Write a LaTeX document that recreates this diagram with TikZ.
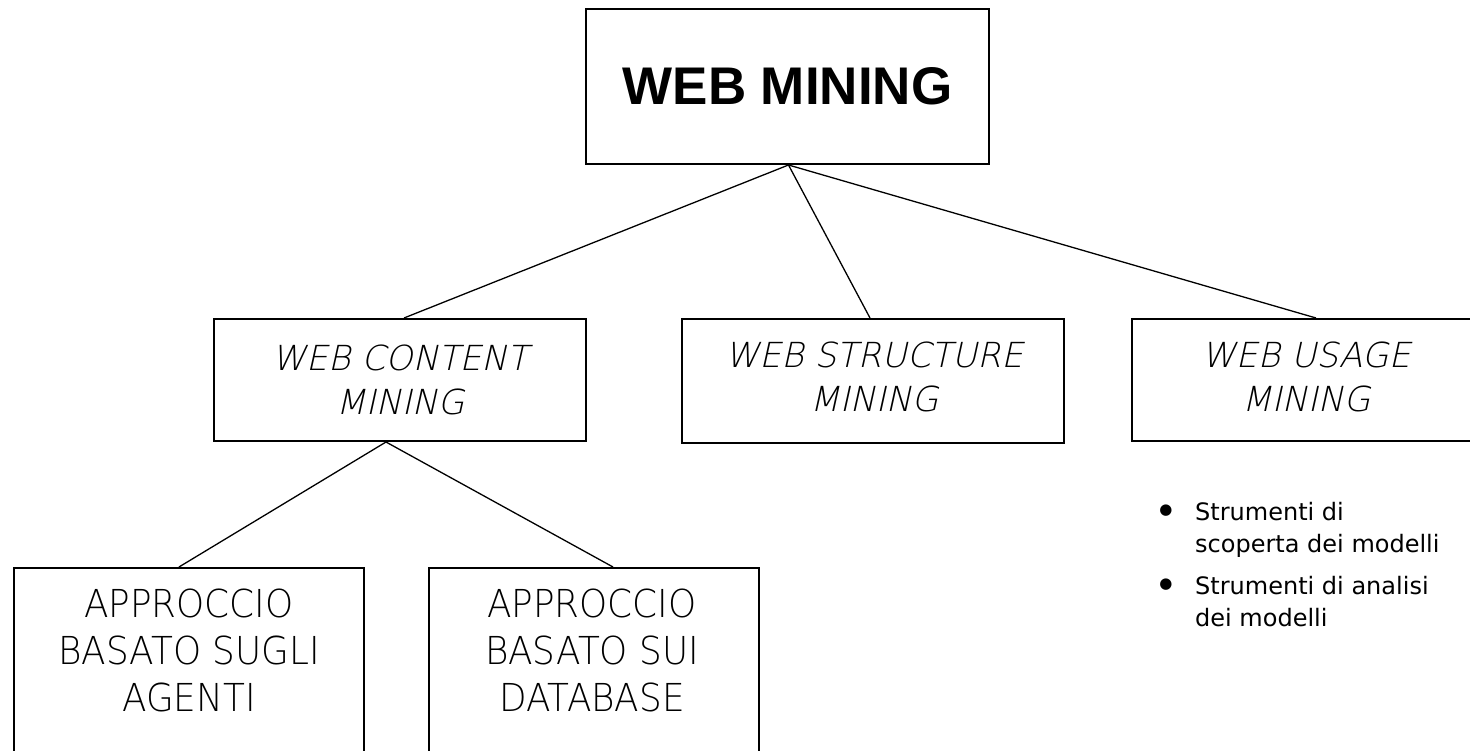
\documentclass[tikz,border=0pt]{standalone}
\usepackage{fontspec}
\setmainfont{Liberation Sans}
\newfontfamily\thinitalic[FakeSlant=0.22]{DejaVu Sans ExtraLight}
\newfontfamily\thinnarrow[FakeStretch=0.93]{DejaVu Sans ExtraLight}
\newfontfamily\bulletfont{DejaVu Sans}
\begin{document}
\begin{tikzpicture}[x=1pt,y=-1pt,
  box/.style={draw, line width=2pt, inner sep=0pt, anchor=north west},
  conn/.style={line width=1.3pt},
  toptext/.style={font=\fontsize{53}{60}\selectfont\bfseries},
  midtext/.style={font=\thinitalic\fontsize{34.5}{44}\selectfont, align=center},
  lowtext/.style={font=\thinnarrow\fontsize{38.5}{47}\selectfont, align=center},
  bultext/.style={font=\bulletfont\fontsize{24}{32}\selectfont, align=left, inner sep=0pt, anchor=north west},
  bulmark/.style={font=\bulletfont\fontsize{15}{15}\selectfont, inner sep=0pt}
]
\clip (0,0) rectangle (1470,751);
\fill[white] (0,0) rectangle (1470,751);
% boxes
\node[box, minimum width=403pt, minimum height=155pt, toptext] (top) at (585,8) {WEB MINING};
\node[box, minimum width=372pt, minimum height=122pt, midtext] (content) at (213,318) {WEB CONTENT\\MINING};
\node[box, minimum width=382pt, minimum height=124pt] (structure) at (681,318) {};
\node[midtext] (structuretext) at (874,377) {WEB STRUCTURE\\MINING};
\node[box, minimum width=358pt, minimum height=122pt] (usage) at (1131,318) {};
\node[midtext] (usagetext) at (1306,377) {WEB USAGE\\MINING};
\node[box, minimum width=350pt, minimum height=200pt] (agenti) at (13,567) {};
\node[box, minimum width=330pt, minimum height=200pt] (database) at (428,567) {};
\node[lowtext] (agentitext) at (189,650) {APPROCCIO\\BASATO SUGLI\\AGENTI};
\node[lowtext] (databasetext) at (592,650) {APPROCCIO\\BASATO SUI\\DATABASE};
% connectors
\draw[conn] ([xshift=1pt]top.south) -- ([xshift=4pt]content.north);
\draw[conn] ([xshift=1pt]top.south) -- ([xshift=-3pt]structure.north);
\draw[conn] ([xshift=1pt]top.south) -- ([xshift=5pt]usage.north);
\draw[conn] ([xshift=-14pt]content.south) -- ([xshift=-10pt]agenti.north);
\draw[conn] ([xshift=-14pt]content.south) -- ([xshift=19pt]database.north);
% bullet list
\node[bulmark] (m1) at (1166,511) {●};
\node[bultext] (l1) at (1195,502) {Strumenti di\\scoperta dei modelli};
\node[bulmark] (m2) at (1166,585) {●};
\node[bultext] (l2) at (1195,576) {Strumenti di analisi\\dei modelli};
\end{tikzpicture}
\end{document}
